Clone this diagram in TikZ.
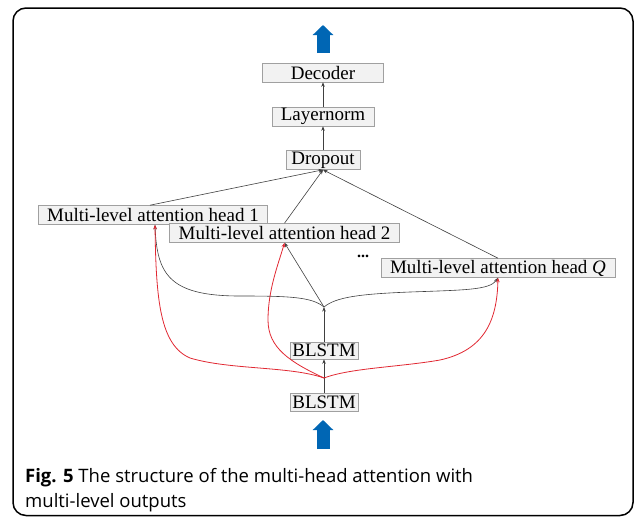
\documentclass[tikz,border=0pt]{standalone}
\usepackage{fontspec}
\setmainfont{Liberation Serif}
\newfontfamily\capfont{Open Sans}
\usepackage{tikz}
\usetikzlibrary{arrows.meta}
\definecolor{boxgray}{RGB}{242,242,242}
\definecolor{edgegray}{RGB}{160,160,160}
\definecolor{arrowblue}{RGB}{0,102,180}
\definecolor{linkred}{RGB}{225,40,50}

\begin{document}
\begin{tikzpicture}[x=1pt, y=-1pt, >={Stealth[length=4.5pt,width=3.5pt]},
    block/.style={rectangle, draw=edgegray, fill=boxgray, line width=0.6pt, inner xsep=9pt, inner ysep=1pt, minimum height=19pt, font=\fontsize{19}{21}\selectfont},
    link/.style={->, draw=black!75, line width=0.6pt},
    redlink/.style={->, draw=linkred, line width=0.8pt},
    bigarrow/.style={-{Triangle[width=20pt,length=10pt]}, draw=arrowblue, line width=13pt},
    captext/.style={anchor=base west, inner sep=0pt, font=\capfont\fontsize{18.5}{22}\selectfont}]

\useasboundingbox (0,0) rectangle (634,520);
\draw [line width=1.5pt, rounded corners=13pt] (13,8) rectangle (633,515.5);

\node [block, minimum width=121pt] (decoder) at (323,72.5) {Decoder};
\node [block, minimum width=98pt] (layernorm) at (323,116.5) {Layernorm};
\node [block, minimum width=74pt, inner xsep=3pt] (dropout) at (323,160) {Dropout};
\node [block] (headone) at (153,215) {Multi-level attention head 1};
\node [block] (headtwo) at (284.5,233) {Multi-level attention head 2};
\node [block] (headq) at (498,268) {Multi-level attention head \textit{Q}};
\node [anchor=base, inner sep=0pt, font=\bfseries\fontsize{16}{18}\selectfont] (dots) at (363,257) {...};
\node [block, minimum width=68pt, inner xsep=2pt, minimum height=17pt] (blstmtop) at (324,350.5) {BLSTM};
\node [block, minimum width=68pt, inner xsep=2pt, minimum height=18pt] (blstmbot) at (324,402.5) {BLSTM};

\coordinate (bsplit) at (324,307);
\coordinate (rsplit) at (324,378);
\coordinate (outtail) at (323,53);
\coordinate (outtip) at (323,25);
\coordinate (intail) at (323,449);
\coordinate (intip) at (323,420);

\draw [bigarrow] (outtail) -- (outtip);
\draw [bigarrow] (intail) -- (intip);

\draw [link] (layernorm) -- (decoder);
\draw [link] (dropout) -- (layernorm);
\draw [link] ([xshift=-3pt]headone.north) -- (dropout.south);
\draw [link] (headtwo.north) -- (dropout.south);
\draw [link] (headq.north) -- (dropout.south);

\draw [link] (blstmbot) -- (blstmtop);
\draw [link] (blstmtop) -- (bsplit);
\draw [link] (bsplit) .. controls (312,297) and (290,296) .. (240,296) .. controls (170,296) and (157,275) .. ([xshift=2pt]headone.south);
\draw [link] (bsplit) -- (headtwo.south);
\draw [link] (bsplit) .. controls (336,297) and (360,294) .. (410,292) .. controls (465,290) and (490,290) .. (headq.south);

\draw [redlink] (rsplit) .. controls (290,366) and (230,370) .. (190,358) .. controls (160,345) and (156,300) .. ([xshift=2pt]headone.south);
\draw [redlink] (rsplit) .. controls (290,362) and (268,348) .. (268,320) .. controls (268,290) and (278,265) .. (headtwo.south);
\draw [redlink] (rsplit) .. controls (350,368) and (400,367) .. (440,360) .. controls (485,350) and (497,320) .. (headq.south);

\node [captext] (capone) at (25,482) {\textbf{Fig. 5} The structure of the multi-head attention with};
\node [captext] (captwo) at (25,507) {multi-level outputs};

\end{tikzpicture}
\end{document}
